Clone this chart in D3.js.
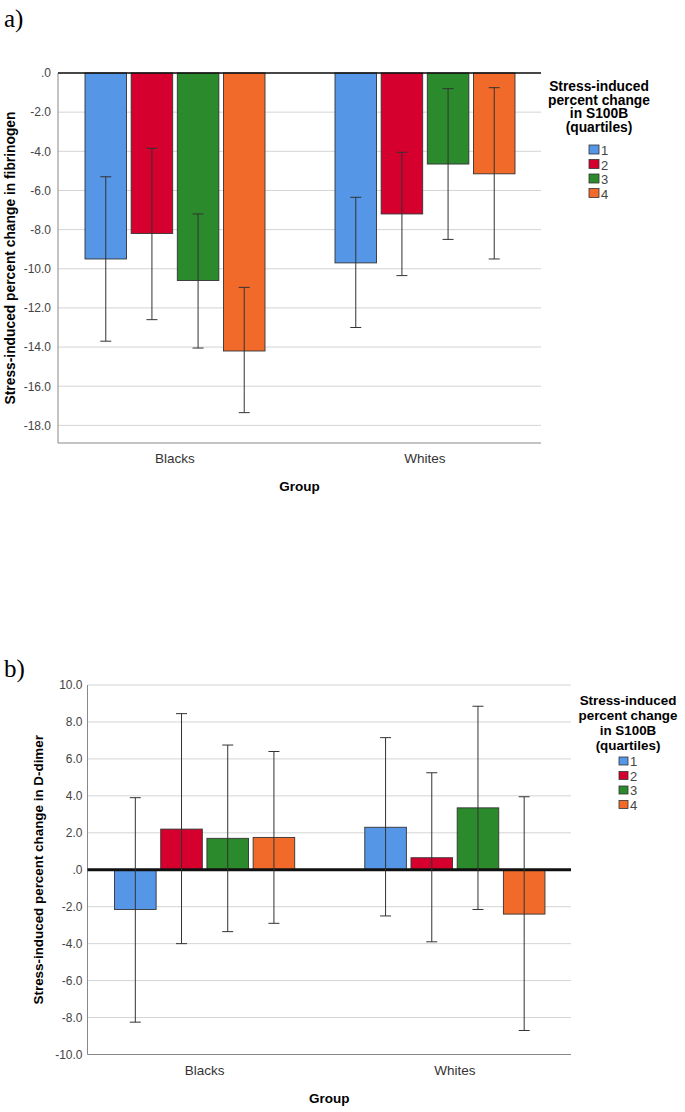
<!DOCTYPE html>
<html lang="en">
<head>
<meta charset="utf-8">
<title>S100B quartiles: fibrinogen and D-dimer</title>
<script src="https://cdnjs.cloudflare.com/ajax/libs/d3/7.8.5/d3.min.js"></script>
<style>
  body { margin: 0; background: #fff; }
  svg { display: block; font-family: "Liberation Sans", Arial, sans-serif; }
</style>
</head>
<body>
<div id="chart"></div>
<script>
// categories
const groups = ["Blacks", "Whites"];
const quartiles = ["1", "2", "3", "4"];
const colours = ["#5596e6", "#d5002d", "#2b8a2b", "#f26a2a"];

// a) fibrinogen, rows = groups, columns = quartiles
const fibMean = [[-9.5, -8.2, -10.6, -14.2], [-9.7, -7.2, -4.65, -5.15]];
const fibLow  = [[-13.7, -12.6, -14.05, -17.35], [-13.0, -10.35, -8.5, -9.5]];
const fibHigh = [[-5.3, -3.85, -7.2, -10.95], [-6.35, -4.05, -0.8, -0.75]];
const fibTicks = [0, -2, -4, -6, -8, -10, -12, -14, -16, -18];

// b) D-dimer
const ddMean = [[-2.15, 2.2, 1.7, 1.75], [2.3, 0.65, 3.35, -2.4]];
const ddLow  = [[-8.25, -4.0, -3.35, -2.9], [-2.5, -3.9, -2.15, -8.7]];
const ddHigh = [[3.9, 8.45, 6.75, 6.4], [7.15, 5.25, 8.85, 3.95]];
const ddTicks = [10, 8, 6, 4, 2, 0, -2, -4, -6, -8, -10];

const W = 685, H = 1112;
const svg = d3.select("#chart").append("svg").attr("width", W).attr("height", H);

function tickFmt(v) {
  return v === 0 ? ".0" : d3.format(".1f")(v).replace("−", "-");
}

function drawChart(o) {
  const g = svg.append("g");
  const y = d3.scaleLinear().domain(o.domain).range([o.bottom, o.top]);
  const x0 = d3.scaleBand().domain(groups).range([o.left - 8, o.right + 9]);
  const x1 = d3.scaleBand().domain(quartiles)
    .range([x0.step() * 0.14, x0.step() * 0.86]).paddingInner(0.1);

  // gridlines
  g.append("g").selectAll("line").data(o.ticks).join("line")
    .attr("x1", o.left).attr("x2", o.right)
    .attr("y1", d => y(d)).attr("y2", d => y(d))
    .attr("stroke", "#d4d4d4").attr("stroke-width", 1);

  // y axis
  const yAxis = d3.axisLeft(y).tickValues(o.ticks).tickFormat(tickFmt).tickSize(0).tickPadding(o.tickPad);
  const ya = g.append("g").attr("transform", `translate(${o.left},0)`).call(yAxis);
  ya.select(".domain").remove();
  ya.selectAll("text").attr("fill", "#444").style("font-size", "12px");
  g.append("line").attr("x1", o.left).attr("x2", o.left)
    .attr("y1", y(o.domain[1])).attr("y2", o.bottom).attr("stroke", "#888");
  g.append("line").attr("x1", o.left).attr("x2", o.right)
    .attr("y1", o.bottom).attr("y2", o.bottom).attr("stroke", "#888");

  // bars
  const rows = [];
  groups.forEach((gr, i) => quartiles.forEach((q, j) => rows.push({
    group: gr, q: q, j: j, mean: o.mean[i][j], low: o.low[i][j], high: o.high[i][j]
  })));
  const bw = x1.bandwidth();
  g.append("g").selectAll("rect").data(rows).join("rect")
    .attr("x", d => x0(d.group) + x1(d.q))
    .attr("y", d => y(Math.max(0, d.mean)))
    .attr("width", bw)
    .attr("height", d => Math.abs(y(d.mean) - y(0)))
    .attr("fill", d => colours[d.j])
    .attr("stroke", "#333").attr("stroke-width", 0.9);

  // zero line
  g.append("line").attr("x1", o.left).attr("x2", o.right)
    .attr("y1", y(0)).attr("y2", y(0))
    .attr("stroke", "#111").attr("stroke-width", o.zeroWidth);

  // error bars
  const eb = g.append("g").attr("stroke", "#333").attr("stroke-width", 1);
  const cx = d => x0(d.group) + x1(d.q) + bw / 2;
  eb.selectAll(".v").data(rows).join("line").attr("class", "v")
    .attr("x1", cx).attr("x2", cx)
    .attr("y1", d => y(d.low)).attr("y2", d => y(d.high));
  ["low", "high"].forEach(k => {
    eb.selectAll(".c" + k).data(rows).join("line").attr("class", "c" + k)
      .attr("x1", d => cx(d) - 5.5).attr("x2", d => cx(d) + 5.5)
      .attr("y1", d => y(d[k])).attr("y2", d => y(d[k]));
  });

  // x labels
  g.append("g").selectAll("text").data(groups).join("text")
    .attr("x", d => x0(d) + x0.bandwidth() / 2)
    .attr("y", o.bottom + 20)
    .attr("text-anchor", "middle").attr("fill", "#333")
    .style("font-size", "13.5px").text(d => d);
  g.append("text").attr("x", (o.left + o.right) / 2).attr("y", o.bottom + 48)
    .attr("text-anchor", "middle").attr("font-weight", "bold")
    .style("font-size", "13.5px").text("Group");

  // y title
  g.append("text")
    .attr("transform", `translate(${o.titleX},${(o.top + o.bottom) / 2}) rotate(-90)`)
    .attr("text-anchor", "middle").attr("font-weight", "bold")
    .style("font-size", o.titleSize).text(o.yTitle);

  // panel label
  g.append("text").attr("x", 4).attr("y", o.panelY)
    .style("font-family", "'Liberation Serif', 'Times New Roman', serif")
    .style("font-size", "25px").text(o.panel);

  // legend
  const lg = g.append("g");
  ["Stress-induced", "percent change", "in S100B", "(quartiles)"].forEach((t, i) => {
    lg.append("text").attr("x", o.legX).attr("y", o.legY + i * o.legLine)
      .attr("text-anchor", "middle").attr("font-weight", "bold")
      .style("font-size", o.legSize).text(t);
  });
  const items = lg.selectAll(".item").data(quartiles).join("g").attr("class", "item")
    .attr("transform", (d, i) => `translate(${o.swX},${o.swY + i * 14.5})`);
  items.append("rect").attr("width", o.sw).attr("height", o.sh)
    .attr("fill", (d, i) => colours[i]).attr("stroke", "#333").attr("stroke-width", 0.8);
  items.append("text").attr("x", o.sw + 2).attr("y", o.sh + 1)
    .attr("fill", "#444").style("font-size", "13px").text(d => d);
}

drawChart({
  mean: fibMean, low: fibLow, high: fibHigh, ticks: fibTicks,
  domain: [-18.9, 0], left: 58, right: 541, top: 73, bottom: 443,
  tickPad: 7, zeroWidth: 1.5, titleX: 15, titleSize: "13.8px",
  yTitle: "Stress-induced percent change in fibrinogen",
  panel: "a)", panelY: 27,
  legX: 599, legY: 91, legLine: 13.5, legSize: "13.8px",
  swX: 589, swY: 145, sw: 10, sh: 9
});

drawChart({
  mean: ddMean, low: ddLow, high: ddHigh, ticks: ddTicks,
  domain: [-10, 10], left: 87.5, right: 571, top: 685, bottom: 1054.5,
  tickPad: 5, zeroWidth: 3, titleX: 43, titleSize: "13.4px",
  yTitle: "Stress-induced percent change in D-dimer",
  panel: "b)", panelY: 677,
  legX: 628, legY: 705, legLine: 15, legSize: "13.4px",
  swX: 619, swY: 757, sw: 9, sh: 8
});
</script>
</body>
</html>
